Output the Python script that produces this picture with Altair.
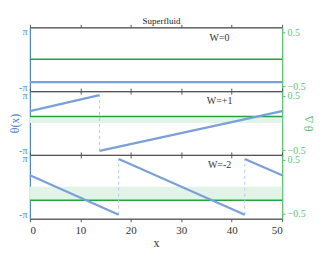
import math
import altair as alt
import pandas as pd

PI = math.pi

# Panels
panel_labels = ["W=0", "W=+1", "W=-2"]
green_levels = [0.0, 0.12, -0.25]          # right axis (θΔ)
# blue θ(x) segments per panel: (x_start, y_start, x_end, y_end)
blue_segments = [
    [(0, -2.58, 50, -2.58)],
    [(0, 1.35, 13.8, PI), (13.8, -PI, 50, 1.35)],
    [(0, 1.30, 17.6, -PI), (17.6, PI, 42.6, -PI), (42.6, PI, 50, 1.30)],
]
jump_x = [[], [13.8], [17.6, 42.6]]

x_ticks = [0, 10, 20, 30, 40, 50]
left_ticks = [-PI, 0, PI]
right_ticks = [-0.5, 0, 0.5]

BLUE = "#7aa0d8"
BLUE_AX = "#4f8ad0"
GREEN = "#22a33d"
GREEN_AX = "#5cc27a"
FILL = "#e2f4e8"
FONT = "Liberation Serif"

W, H = 253, 64


def panel(i):
    last = i == 2
    mid = i == 1
    rows = []
    for k, (x0, y0, x1, y1) in enumerate(blue_segments[i]):
        rows.append({"x": x0, "y": y0, "seg": k})
        rows.append({"x": x1, "y": y1, "seg": k})
    bdf = pd.DataFrame(rows)

    xscale = alt.Scale(domain=[0, 50], nice=False, zero=False)
    yl = alt.Scale(domain=[-3.6, 3.6], nice=False)
    yr = alt.Scale(domain=[-0.59, 0.59], nice=False)

    xaxis = alt.Axis(values=x_ticks, labels=last, title="x" if last else None,
                     grid=False, tickSize=3, domainColor="#555", tickColor="#555",
                     labelFont=FONT, labelFontSize=11, titleFont=FONT,
                     titleFontSize=12, titleFontWeight="normal", labelColor="#333",
                     titleColor="#333", labelPadding=3, titlePadding=2)
    xaxis_top = alt.Axis(values=x_ticks, labels=False, title=None, orient="top",
                         grid=False, tickSize=3, domainColor="#555", tickColor="#555")

    lkw = dict(title=None)
    rkw = dict(title=None)
    if mid:
        lkw = dict(title="θ(x)", titleX=-15, titleY=H / 2, titleBaseline="middle",
                   titleAlign="center")
        rkw = dict(title="θ Δ", titleX=26, titleY=H / 2, titleBaseline="middle",
                   titleAlign="center")
    lax = alt.Axis(values=left_ticks, grid=False, ticks=False, labelPadding=3,
                   labelExpr="datum.value > 1 ? 'π' : (datum.value < -1 ? '-π' : '0')",
                   domainColor=BLUE_AX,
                   labelColor=BLUE_AX, titleColor=BLUE_AX, labelFont=FONT, labelFontSize=10,
                   titleFont=FONT, titleFontSize=12, titleFontWeight="normal",
                   domainWidth=1.2, **lkw)
    rax = alt.Axis(values=right_ticks, grid=False, tickSize=3, orient="right",
                   domainColor=GREEN_AX, tickColor=GREEN_AX,
                   labelColor=GREEN_AX, titleColor=GREEN_AX, labelFont=FONT, labelFontSize=10,
                   titleFont=FONT, titleFontSize=12, titleFontWeight="normal",
                   titleAngle=270, domainWidth=1.2,
                   labelExpr="datum.value == 0 ? '0' : format(datum.value, '.1f')", **rkw)

    blue = alt.Chart(bdf).mark_line(color=BLUE, strokeWidth=2.2).encode(
        x=alt.X("x:Q", scale=xscale, axis=xaxis),
        y=alt.Y("y:Q", scale=yl, axis=lax),
        detail="seg:N",
    )
    left_layers = [blue]
    if jump_x[i]:
        jdf = pd.DataFrame({"x": jump_x[i], "y0": [-PI] * len(jump_x[i]),
                            "y1": [PI] * len(jump_x[i])})
        rules = alt.Chart(jdf).mark_rule(color="#b5c8e6", strokeDash=[3, 3],
                                         strokeWidth=1).encode(
            x="x:Q", y="y0:Q", y2="y1:Q")
        left_layers.insert(0, rules)
    tdf = pd.DataFrame({"x": [37.6], "y": [2.45], "t": [panel_labels[i]]})
    txt = alt.Chart(tdf).mark_text(font=FONT, fontSize=10, color="#333").encode(
        x="x:Q", y="y:Q", text="t:N")
    left_layers.append(txt)
    left = alt.layer(*left_layers)

    g = green_levels[i]
    gdf = pd.DataFrame({"x": [0, 50], "g": [g, g], "z": [0, 0]})
    area = alt.Chart(gdf).mark_area(color=FILL, opacity=1).encode(
        x=alt.X("x:Q", scale=xscale, axis=xaxis_top),
        y=alt.Y("g:Q", scale=yr, axis=rax),
        y2="z:Q",
    )
    gline = alt.Chart(gdf).mark_line(color=GREEN, strokeWidth=1.6).encode(
        x="x:Q", y="g:Q")
    right = alt.layer(area, gline)

    return alt.layer(right, left).resolve_scale(y="independent").resolve_axis(
        x="independent").properties(width=W, height=H)


chart = alt.vconcat(*[panel(i) for i in range(3)], spacing=0, bounds="flush").properties(
    title=alt.TitleParams("Superfluid", font=FONT, fontSize=9, fontWeight="normal",
                          color="#222", offset=-3, anchor="middle"),
    padding={"left": 0, "top": 9, "right": 0, "bottom": 0},
).configure_view(stroke="#666", strokeWidth=1)

chart.save("out.html", embed_options={"renderer": "svg", "actions": False})
